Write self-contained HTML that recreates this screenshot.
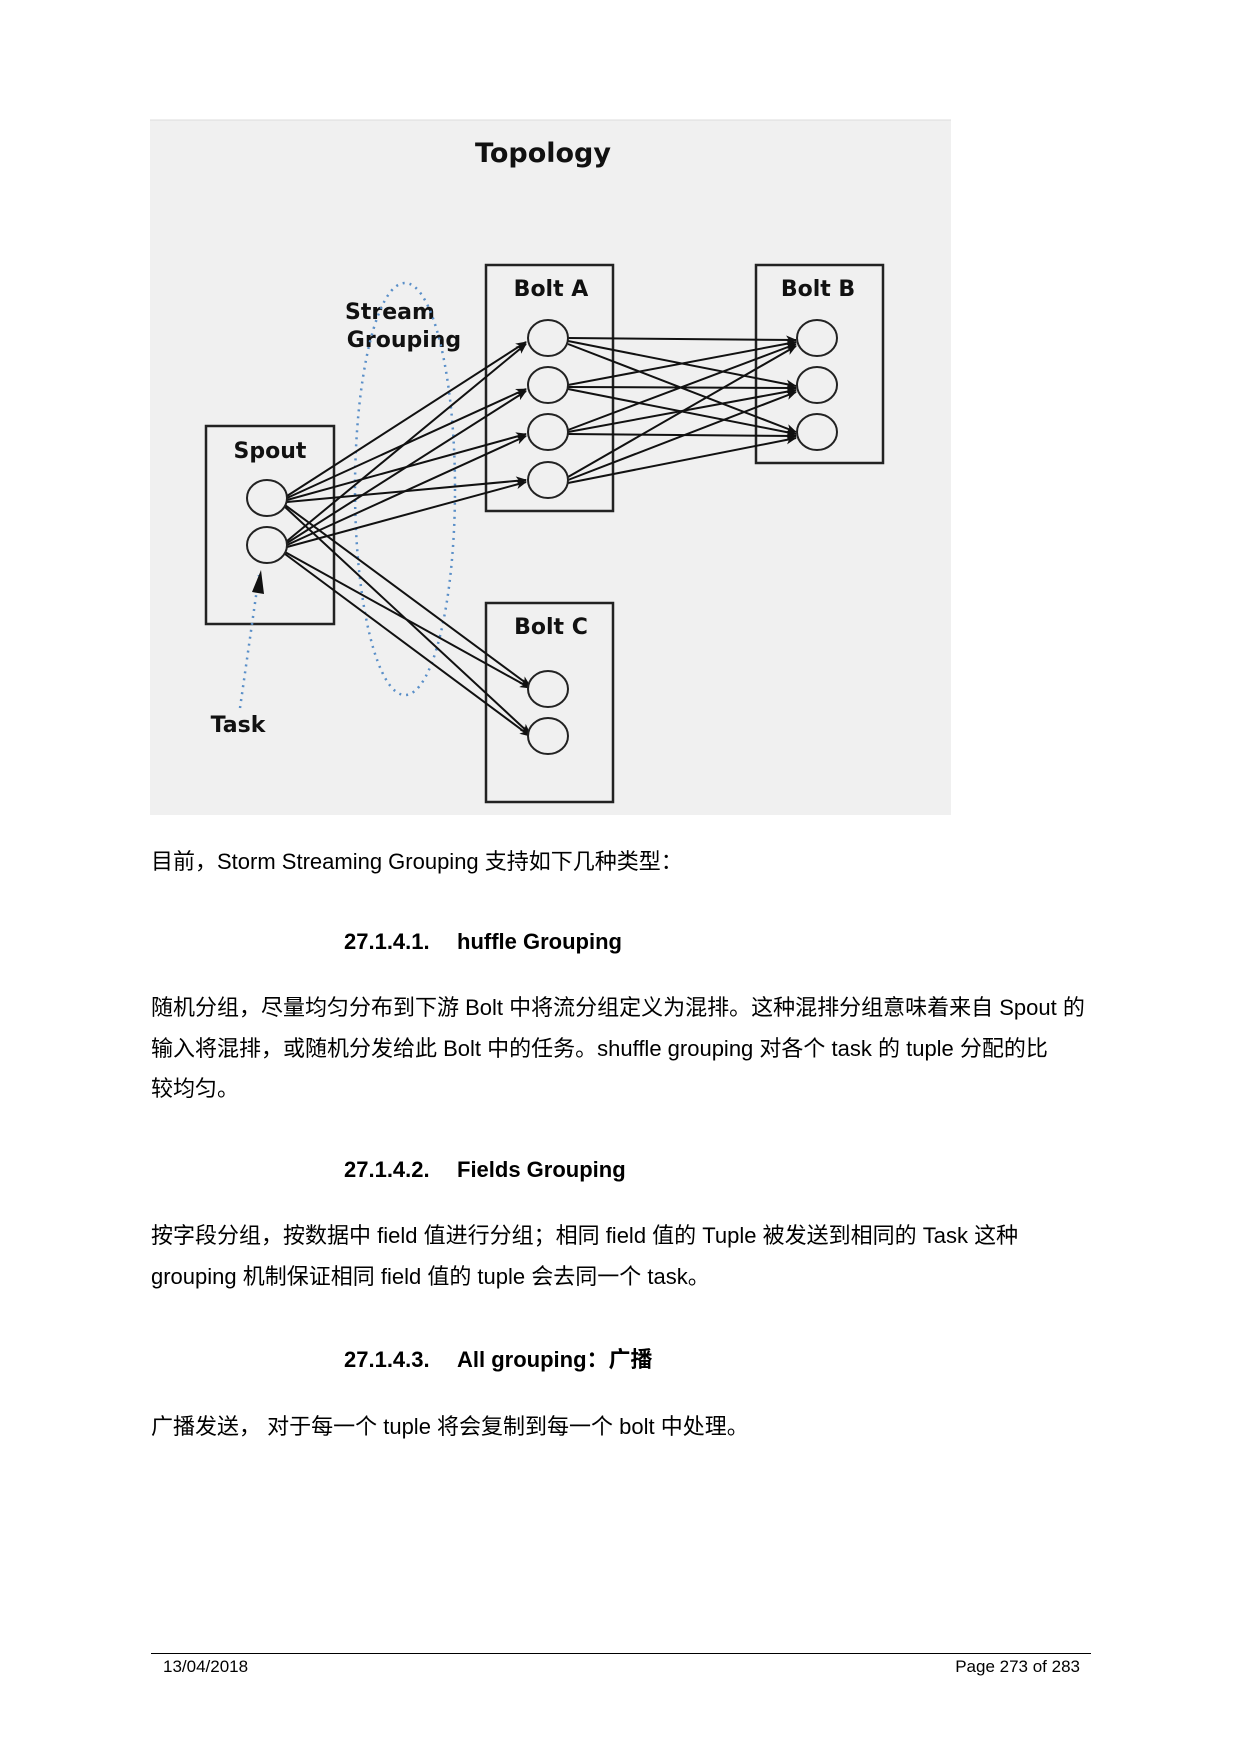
<!DOCTYPE html>
<html><head><meta charset="utf-8"><style>
body{margin:0;background:#fff;width:1240px;height:1754px;position:relative;overflow:hidden;font-family:"Liberation Sans","Noto Sans CJK SC",sans-serif;color:#000}
.t{position:absolute;font-size:22px;white-space:nowrap;line-height:1}
.h{position:absolute;font-size:22px;font-weight:bold;white-space:nowrap;line-height:1}
</style></head><body>
<svg style="position:absolute;left:0;top:0" width="1240" height="900">
<defs><marker id="a" markerWidth="11" markerHeight="9" refX="10" refY="4.5" orient="auto" markerUnits="userSpaceOnUse"><path d="M0,0 L11,4.5 L0,9 L3,4.5 z" fill="#111"/></marker></defs>
<rect x="150" y="120" width="801" height="695" fill="#f0f0f0"/>
<line x1="150" y1="120" x2="951" y2="120" stroke="#ddd"/>
<g font-family="DejaVu Sans, sans-serif" font-weight="bold" text-anchor="middle" fill="#111">
<text x="543" y="162" font-size="27">Topology</text>
<text x="551" y="296" font-size="22">Bolt A</text>
<text x="818" y="296" font-size="22">Bolt B</text>
<text x="270" y="458" font-size="22">Spout</text>
<text x="551" y="634" font-size="22">Bolt C</text>
<text x="390" y="319" font-size="22">Stream</text>
<text x="404" y="347" font-size="22">Grouping</text>
<text x="238" y="732" font-size="22">Task</text>
</g>
<g fill="none" stroke="#222" stroke-width="2.5">
<rect x="206" y="426" width="128" height="198"/>
<rect x="486" y="265" width="127" height="246"/>
<rect x="756" y="265" width="127" height="198"/>
<rect x="486" y="603" width="127" height="199"/>
</g>
<ellipse cx="405" cy="489" rx="50" ry="206" fill="none" stroke="#5a8fc8" stroke-width="2.5" stroke-dasharray="2 5"/>
<line x1="240" y1="708" x2="259" y2="575" stroke="#5a8fc8" stroke-width="2.5" stroke-dasharray="2 5"/>
<path d="M252,592 L261,570 L264,594 Z" fill="#111"/>
<g stroke="#111" stroke-width="2" marker-end="url(#a)">
<line x1="287" y1="496" x2="526" y2="342"/>
<line x1="287" y1="498" x2="526" y2="389"/>
<line x1="287" y1="500" x2="526" y2="434"/>
<line x1="287" y1="502" x2="526" y2="480"/>
<line x1="287" y1="541" x2="526" y2="344"/>
<line x1="287" y1="543" x2="526" y2="391"/>
<line x1="287" y1="545" x2="526" y2="436"/>
<line x1="287" y1="547" x2="526" y2="482"/>
<line x1="285" y1="505" x2="530" y2="686"/>
<line x1="285" y1="507" x2="530" y2="734"/>
<line x1="285" y1="552" x2="530" y2="688"/>
<line x1="285" y1="554" x2="530" y2="736"/>
<line x1="568" y1="338" x2="796" y2="340"/>
<line x1="568" y1="341" x2="796" y2="386"/>
<line x1="568" y1="344" x2="796" y2="432"/>
<line x1="568" y1="385" x2="796" y2="342"/>
<line x1="568" y1="387" x2="796" y2="388"/>
<line x1="568" y1="389" x2="796" y2="434"/>
<line x1="568" y1="430" x2="796" y2="344"/>
<line x1="568" y1="432" x2="796" y2="390"/>
<line x1="568" y1="434" x2="796" y2="436"/>
<line x1="568" y1="477" x2="796" y2="346"/>
<line x1="568" y1="480" x2="796" y2="392"/>
<line x1="568" y1="483" x2="796" y2="438"/>
</g>
<g fill="#f0f0f0" stroke="#222" stroke-width="2">
<ellipse cx="267" cy="498" rx="20" ry="18"/>
<ellipse cx="267" cy="545" rx="20" ry="18"/>
<ellipse cx="548" cy="338" rx="20" ry="18"/>
<ellipse cx="548" cy="385" rx="20" ry="18"/>
<ellipse cx="548" cy="432" rx="20" ry="18"/>
<ellipse cx="548" cy="480" rx="20" ry="18"/>
<ellipse cx="817" cy="338" rx="20" ry="18"/>
<ellipse cx="817" cy="385" rx="20" ry="18"/>
<ellipse cx="817" cy="432" rx="20" ry="18"/>
<ellipse cx="548" cy="689" rx="20" ry="18"/>
<ellipse cx="548" cy="736" rx="20" ry="18"/>
</g>
</svg>
<div class="t" style="left:151px;top:851px">目前，Storm Streaming Grouping 支持如下几种类型：</div>
<div class="h" style="left:344px;top:931px">27.1.4.1.</div><div class="h" style="left:457px;top:931px">huffle Grouping</div>
<div class="t" style="left:151px;top:997px">随机分组，尽量均匀分布到下游 Bolt 中将流分组定义为混排。这种混排分组意味着来自 Spout 的</div>
<div class="t" style="left:151px;top:1038px">输入将混排，或随机分发给此 Bolt 中的任务。shuffle grouping 对各个 task 的 tuple 分配的比</div>
<div class="t" style="left:151px;top:1078px">较均匀。</div>
<div class="h" style="left:344px;top:1159px">27.1.4.2.</div><div class="h" style="left:457px;top:1159px">Fields Grouping</div>
<div class="t" style="left:151px;top:1225px">按字段分组，按数据中 field 值进行分组；相同 field 值的 Tuple 被发送到相同的 Task 这种</div>
<div class="t" style="left:151px;top:1266px">grouping 机制保证相同 field 值的 tuple 会去同一个 task。</div>
<div class="h" style="left:344px;top:1349px">27.1.4.3.</div><div class="h" style="left:457px;top:1349px">All grouping：广播</div>
<div class="t" style="left:151px;top:1416px">广播发送， 对于每一个 tuple 将会复制到每一个 bolt 中处理。</div>
<div style="position:absolute;left:151px;top:1653px;width:940px;border-top:1.5px solid #000"></div>
<div style="position:absolute;left:163px;top:1657px;font-size:17px">13/04/2018</div>
<div style="position:absolute;right:160px;top:1657px;font-size:17px">Page 273 of 283</div>
</body></html>
